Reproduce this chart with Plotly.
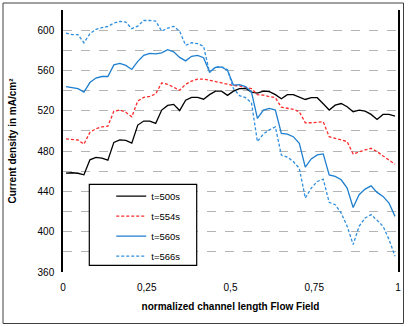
import numpy as np
import plotly.graph_objects as go

# normalized channel positions (56 samples, cell centres)
x_pos = (np.arange(56) + 0.5) / 56

t500 = [458.1, 458.5, 458.0, 456.5, 471.3, 473.8, 473.0, 471.0, 488.6, 491.2,
        490.6, 487.9, 505.8, 509.8, 509.8, 507.5, 520.7, 525.3, 526.3, 520.2,
        530.5, 533.2, 533.2, 531.5, 536.0, 539.5, 539.5, 535.3, 539.5, 542.0,
        542.3, 538.5, 537.5, 539.5, 539.0, 536.0, 532.0, 536.0, 536.0, 533.8,
        531.2, 533.0, 533.0, 527.0, 520.7, 525.6, 527.2, 524.0, 519.0, 520.7,
        519.7, 516.4, 511.4, 516.4, 516.4, 514.7]
t554 = [492.2, 491.5, 491.0, 486.9, 498.5, 502.2, 504.1, 504.8, 519.5, 520.7,
        518.5, 514.0, 529.7, 533.3, 534.3, 536.8, 547.6, 546.3, 543.4, 540.4,
        546.3, 549.5, 551.5, 551.3, 550.3, 549.0, 548.0, 546.5, 545.0, 544.7,
        543.7, 542.0, 536.0, 535.5, 534.0, 533.0, 523.5, 522.5, 521.5, 519.0,
        508.1, 508.1, 508.5, 509.1, 494.3, 492.7, 491.7, 489.4, 477.2, 479.5,
        481.1, 482.8, 479.5, 475.2, 471.3, 467.0]
t560 = [544.0, 543.0, 542.0, 538.5, 548.0, 552.5, 554.0, 554.0, 565.5, 567.0,
        565.0, 561.0, 569.0, 575.0, 577.0, 576.5, 577.5, 580.6, 578.5, 573.0,
        569.5, 574.0, 575.0, 572.7, 558.5, 563.0, 563.4, 560.0, 545.4, 546.0,
        544.0, 538.7, 512.4, 520.7, 522.3, 520.7, 497.6, 496.9, 494.3, 487.7,
        464.0, 472.2, 476.2, 477.2, 456.4, 454.8, 451.5, 443.2, 424.0, 436.7,
        442.3, 445.5, 439.0, 435.0, 428.4, 415.2]
t566 = [597.0, 595.5, 595.5, 587.5, 596.4, 600.7, 602.4, 603.7, 607.0, 608.6,
        608.0, 601.5, 604.0, 609.6, 609.6, 609.0, 599.0, 602.0, 603.7, 599.0,
        585.0, 587.5, 586.6, 584.0, 558.0, 563.5, 563.8, 560.8, 542.0, 535.0,
        533.0, 528.0, 489.5, 497.0, 501.0, 504.0, 476.0, 474.0, 469.6, 463.0,
        433.4, 443.2, 449.8, 452.1, 429.1, 426.8, 418.5, 405.4, 387.3, 405.4,
        413.6, 416.9, 411.3, 405.4, 392.2, 375.7]

series_names = ["t=500s", "t=554s", "t=560s", "t=566s"]
x_tickvals = [0, 0.25, 0.5, 0.75, 1]
x_ticktext = ["0", "0,25", "0,5", "0,75", "1"]
y_tickvals = [360, 400, 440, 480, 520, 560, 600]

styles = [
    dict(color="#000000", dash="solid"),
    dict(color="#ff2a2a", dash="3px,2px"),
    dict(color="#1f7fcf", dash="solid"),
    dict(color="#2f8fdf", dash="3px,2px"),
]

fig = go.Figure()
for i, (name, vals) in enumerate(zip(series_names, [t500, t554, t560, t566])):
    fig.add_trace(go.Scatter(
        x=x_pos, y=vals, mode="lines", name=name,
        xaxis="x2", yaxis="y", legendgroup=name,
        line=dict(color=styles[i]["color"], dash=styles[i]["dash"], width=1.3),
    ))

FONT = "Liberation Sans"
grid = "#b4b4b4"
L, R, T, B = 63, 15, 10, 55
fig.update_layout(
    width=413, height=327,
    margin=dict(l=L, r=R, t=T, b=B),
    paper_bgcolor="white", plot_bgcolor="white",
    font=dict(family=FONT, size=10, color="#000000"),
    showlegend=True,
    legend=dict(x=0.144, y=0.345, xanchor="left", yanchor="top",
                bgcolor="rgba(0,0,0,0)", borderwidth=0,
                font=dict(family=FONT, size=9.5),
                tracegroupgap=1),
    xaxis=dict(range=[0, 1], tickmode="linear", tick0=0, dtick=1/14,
               showgrid=True, griddash="dash", gridcolor=grid, gridwidth=1,
               showticklabels=False, ticks="", zeroline=False,
               showline=True, linecolor="black", linewidth=1.5, mirror=True),
    xaxis2=dict(range=[0, 1], overlaying="x", side="bottom",
                tickmode="array", tickvals=x_tickvals, ticktext=x_ticktext,
                showgrid=False, zeroline=False, ticks="",
                ticklabelstandoff=8,
                tickfont=dict(family=FONT, size=10),
                title=dict(text="<b>normalized channel length Flow Field</b>",
                           font=dict(family=FONT, size=10), standoff=10)),
    yaxis=dict(range=[360, 620], tickmode="array", tickvals=y_tickvals,
               showgrid=True, griddash="dash", gridcolor=grid, gridwidth=1,
               minor=dict(dtick=20, tick0=360, showgrid=True, griddash="dash",
                          gridcolor=grid, gridwidth=1),
               zeroline=False, ticks="", tickfont=dict(family=FONT, size=10),
               ticklabelstandoff=5,
               showline=True, linecolor="black", linewidth=1.5, mirror=True,
               title=dict(text="<b>Current density in mA/cm²</b>",
                          font=dict(family=FONT, size=10), standoff=19)),
)

# legend box and outer chart border
pw, ph = 413 - L - R, 327 - T - B
def px(xp):
    return (xp - L) / pw
def py(yp):
    return (327 - B - yp) / ph

fig.add_shape(type="rect", xref="paper", yref="paper",
              x0=px(89.3), x1=px(196.7), y0=py(265.3), y1=py(184.3),
              line=dict(color="black", width=1.2), fillcolor="white", layer="above")
fig.add_shape(type="rect", xref="paper", yref="paper",
              x0=px(3), x1=px(403.5), y0=py(323.5), y1=py(3),
              line=dict(color="#404040", width=1), fillcolor="rgba(0,0,0,0)")

fig.write_html("out.html")
